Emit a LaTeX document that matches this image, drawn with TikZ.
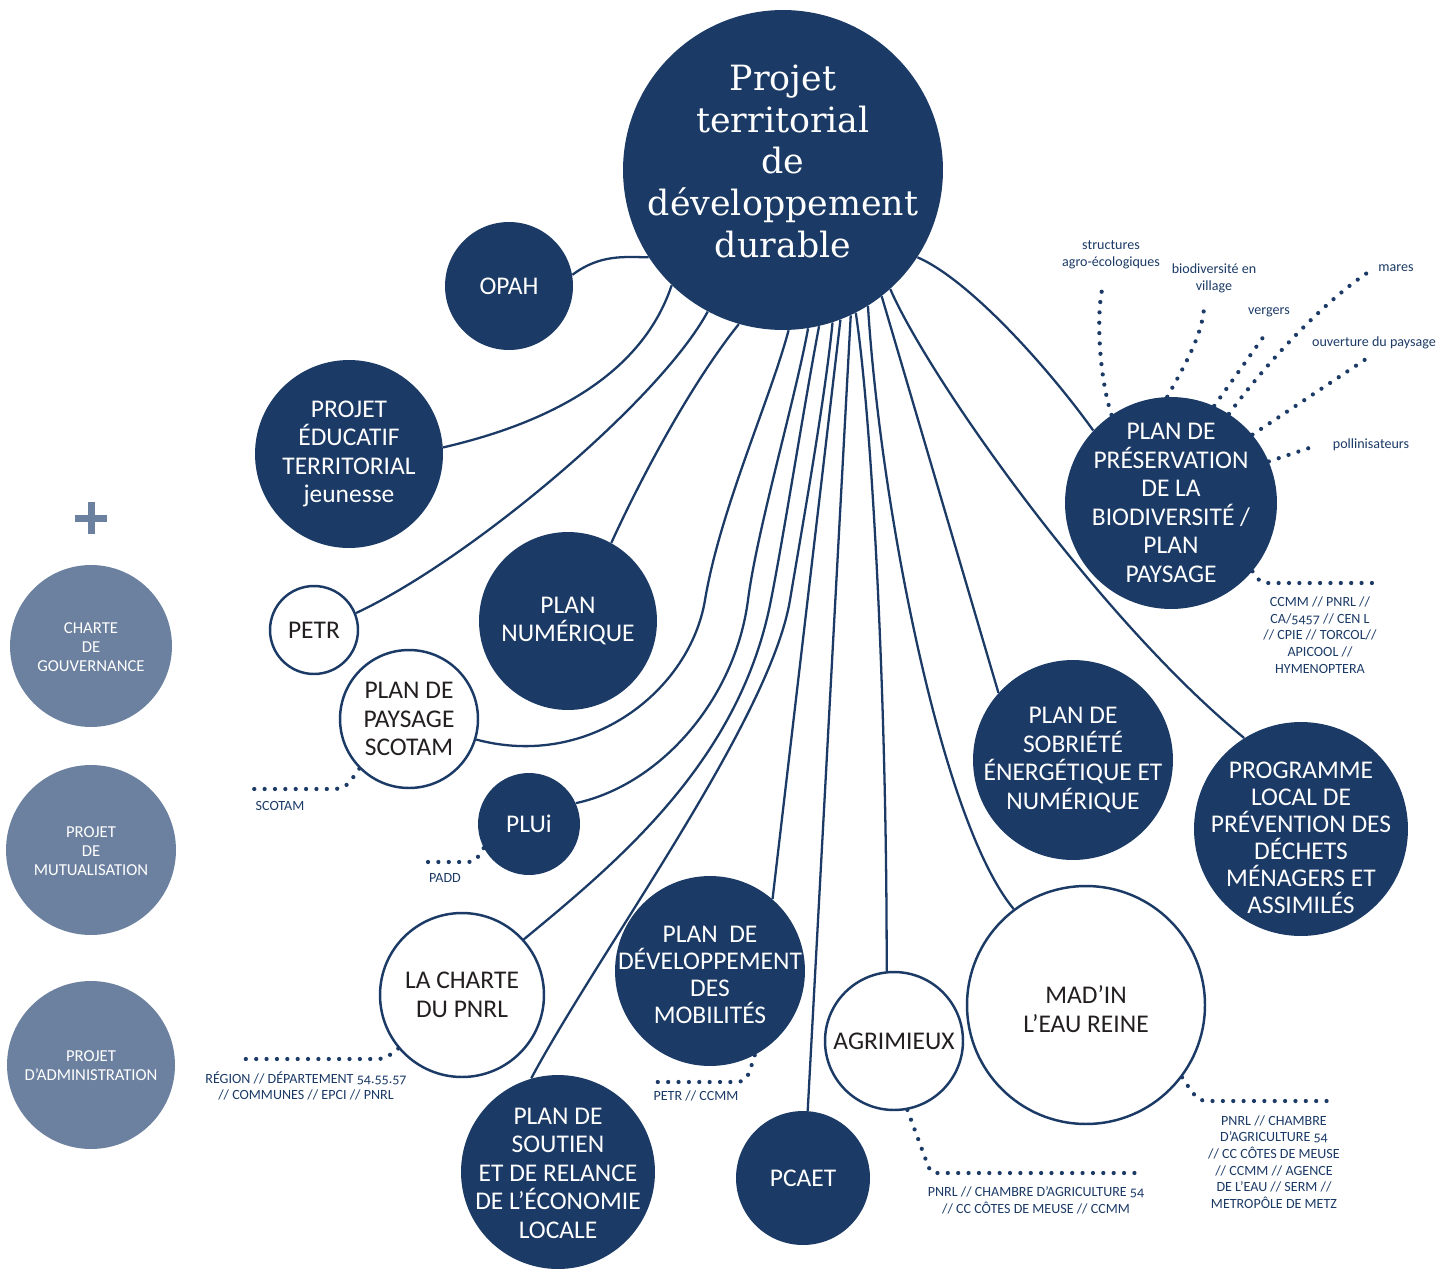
\documentclass[tikz,border=0pt]{standalone}
\usepackage{fontspec}
\setmainfont{Carlito}[Numbers=OldStyle]
\newfontfamily\titlefont{DejaVu Serif}
\usepackage{xcolor}
\definecolor{navy}{RGB}{27,58,102}
\definecolor{slate}{RGB}{108,129,159}
\definecolor{ink}{RGB}{35,31,32}
% text of a disc, kept out of the disc size
\newcommand{\disctext}[2][-3.5pt]{\makebox[0pt]{\parbox[c][0pt][c]{8cm}{\centering #2\par\vspace{#1}}}}

\begin{document}
\begin{tikzpicture}[x=0.02cm, y=-0.02cm,
  disc/.style={circle, fill=navy, inner sep=0pt, minimum size=#1, text=white,
    font=\fontsize{14.5}{16.3}\selectfont},
  ring/.style={circle, draw=navy, line width=1.4pt, fill=white, inner sep=0pt,
    minimum size=#1, text=ink, font=\fontsize{14.5}{16.3}\selectfont},
  greydisc/.style={circle, fill=slate, inner sep=0pt, minimum size=#1, text=white,
    font=\fontsize{9.5}{10.8}\selectfont},
  link/.style={navy, line width=1.3pt},
  dots/.style={navy, line width=2.4pt, line cap=round, dash pattern=on 0pt off 5.9pt},
  note/.style={text=navy, align=center, inner sep=0pt, font=\fontsize{8}{9.5}\selectfont}]
\useasboundingbox (0,0) rectangle (1454,1271);

% centre
\node[disc=6.4cm, font=\titlefont\fontsize{19.8}{23.8}\selectfont] (ptdd) at (783,170)
  {\disctext[4.6pt]{Projet\\territorial\\de\\développement\\durable}};

% projects
\node[disc=2.56cm] (opah) at (509,286) {\disctext{OPAH}};
\node[disc=3.76cm] (pedt) at (349,454) {\disctext{PROJET\\ÉDUCATIF\\TERRITORIAL\\jeunesse}};
\node[ring=1.76cm] (petr) at (314,630) {\disctext{PETR}};
\node[disc=3.56cm] (numerique) at (568,621) {\disctext{PLAN\\NUMÉRIQUE}};
\node[ring=2.76cm] (scotam) at (409,719) {\disctext{PLAN DE\\PAYSAGE\\SCOTAM}};
\node[disc=2.04cm] (plui) at (529,824) {\disctext{PLUi}};
\node[ring=3.28cm] (pnrl) at (462,995) {\disctext{LA CHARTE\\DU PNRL}};
\node[disc=3.8cm, font=\fontsize{14.5}{15.5}\selectfont] (mobilite) at (710,971)
  {\disctext[-8pt]{PLAN~ DE\\DÉVELOPPEMENT\\DES\\MOBILITÉS}};
\node[disc=3.88cm] (soutien) at (558,1172) {\disctext[-5pt]{PLAN DE\\SOUTIEN\\ET DE RELANCE\\DE L’ÉCONOMIE\\LOCALE}};
\node[disc=2.68cm] (pcaet) at (803,1178) {\disctext{PCAET}};
\node[ring=2.76cm] (agrimieux) at (894,1041) {\disctext{AGRIMIEUX}};
\node[ring=4.76cm] (madin) at (1086,1005) {\disctext[-8pt]{MAD’IN\\L’EAU REINE}};
\node[disc=4cm] (sobriete) at (1073,760) {\disctext{PLAN DE\\SOBRIÉTÉ\\ÉNERGÉTIQUE ET\\NUMÉRIQUE}};
\node[disc=4.28cm, font=\fontsize{14.5}{15.4}\selectfont] (plpd) at (1301,829)
  {\disctext[-13.5pt]{PROGRAMME\\LOCAL DE\\PRÉVENTION DES\\DÉCHETS\\MÉNAGERS ET\\ASSIMILÉS}};
\node[disc=4.24cm] (biodiv) at (1171,503) {\disctext{PLAN DE\\PRÉSERVATION\\DE LA\\BIODIVERSITÉ /\\PLAN\\PAYSAGE}};

% left column
\fill[slate] (75,515) rectangle (107,522);
\fill[slate] (88,502) rectangle (95,534);
\node[greydisc=3.24cm] (gouv) at (91,646) {\disctext{CHARTE\\DE\\GOUVERNANCE}};
\node[greydisc=3.4cm] (mutual) at (91,850) {\disctext{PROJET\\DE\\MUTUALISATION}};
\node[greydisc=3.36cm] (admin) at (91,1065) {\disctext{PROJET\\D’ADMINISTRATION}};

% links to the centre
\draw[link] (opah.10) .. controls (600,254) and (625,257) .. (ptdd.213);
\draw[link] (pedt.4) .. controls (540,425) and (640,380) .. (ptdd.226);
\draw[link] (petr.22) .. controls (470,560) and (660,400) .. (ptdd.242);
\draw[link] (numerique.61) .. controls (640,480) and (690,385) .. (ptdd.254);
\draw[link] (scotam.-17) .. controls (590,770) and (690,690) .. (705,600)
  .. controls (720,510) and (770,400) .. (ptdd.272);
\draw[link] (plui.24) .. controls (660,785) and (735,700) .. (748,600)
  .. controls (757,530) and (795,400) .. (ptdd.279);
\draw[link] (pnrl.42) .. controls (620,860) and (740,760) .. (771,600)
  .. controls (783,540) and (805,400) .. (ptdd.283);
\draw[link] (soutien.106) .. controls (600,950) and (770,720) .. (790,600)
  .. controls (800,540) and (825,400) .. (ptdd.288);
\draw[link] (mobilite.49) -- (ptdd.291);
\draw[link] (pcaet.86) -- (ptdd.295);
\draw[link] (agrimieux.96) .. controls (887,700) and (872,420) .. (ptdd.297);
\draw[link] (madin.127) .. controls (940,820) and (880,500) .. (ptdd.302);
\draw[link] (sobriete.138) -- (ptdd.308);
\draw[link] (plpd.122) .. controls (1100,620) and (930,380) .. (ptdd.312);
\draw[link] (biodiv.137) .. controls (1050,370) and (970,280) .. (ptdd.327);

% dotted rays of the biodiversity plan
\coordinate (agroend) at (1102,290);
\coordinate (villend) at (1204,303);
\coordinate (vergend) at (1264,336);
\coordinate (maresend) at (1367,273);
\coordinate (ouvend) at (1369,357);
\coordinate (pollend) at (1312,447);
\coordinate (biopartend) at (1377,583);
\draw[dots] (biodiv.124) .. controls (1100,380) and (1096,320) .. (agroend);
\draw[dots] (biodiv.92) .. controls (1185,365) and (1205,330) .. (villend);
\draw[dots] (biodiv.66) -- (vergend);
\draw[dots] (biodiv.57) .. controls (1265,365) and (1320,305) .. (maresend);
\draw[dots] (biodiv.40) -- (ouvend);
\draw[dots] (biodiv.23) -- (pollend);
\draw[dots] (biodiv.-40) .. controls (1260,582) .. (1268,583) -- (biopartend);

\node[note] at (1111,255) {structures\\agro-écologiques};
\node[note] at (1214,278) {biodiversité en\\village};
\node[note] at (1269,312) {vergers};
\node[note] at (1396,268) {mares};
\node[note] at (1374,343) {ouverture du paysage};
\node[note] at (1371,445) {pollinisateurs};
\node[note] at (1320,635) {CCMM // PNRL //\\CA/5457 // CEN L\\// CPIE // TORCOL//\\APICOOL //\\HYMENOPTERA};

% other partners
\coordinate (scotamend) at (253,789);
\coordinate (paddend) at (419,862);
\coordinate (pnrlend) at (243,1059);
\coordinate (mobend) at (656,1082);
\coordinate (agriend) at (1143,1173);
\coordinate (madinend) at (1335,1101);
\draw[dots] (scotam.225) .. controls (345,789) .. (328,789) -- (scotamend);
\draw[dots] (plui.208) .. controls (475,862) .. (465,862) -- (paddend);
\draw[dots] (pnrl.220) .. controls (385,1059) .. (372,1059) -- (pnrlend);
\draw[dots] (mobilite.-62) .. controls (747,1080) .. (738,1082) -- (mobend);
\draw[dots] (agrimieux.-79) -- (927,1163) .. controls (931,1173) .. (940,1173) -- (agriend);
\draw[dots] (madin.-37) .. controls (1198,1101) .. (1212,1101) -- (madinend);

\node[note] at (280,806) {SCOTAM};
\node[note] at (445,878) {PADD};
\node[note] at (306,1086) {RÉGION // DÉPARTEMENT 54.55.57\\// COMMUNES // EPCI // PNRL};
\node[note] at (696,1096) {PETR // CCMM};
\node[note] at (1036,1200) {PNRL // CHAMBRE D’AGRICULTURE 54\\// CC CÔTES DE MEUSE // CCMM};
\node[note] at (1274,1162) {PNRL // CHAMBRE\\D’AGRICULTURE 54\\// CC CÔTES DE MEUSE\\// CCMM // AGENCE\\DE L’EAU // SERM //\\METROPÔLE DE METZ};
\end{tikzpicture}
\end{document}
